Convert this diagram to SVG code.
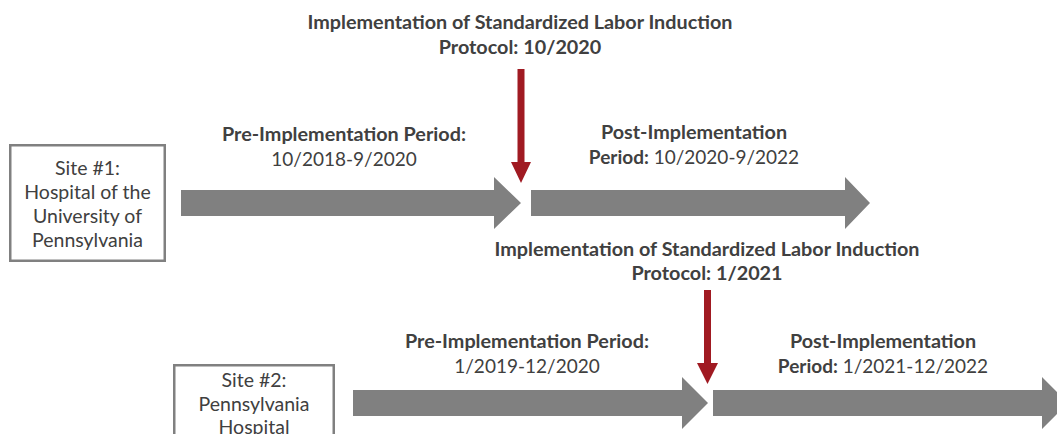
<svg xmlns="http://www.w3.org/2000/svg" width="1057" height="434" viewBox="0 0 1057 434">
  <style>
    text { font-family: Lato, "Open Sans", "Liberation Sans", sans-serif; fill: #404040; text-anchor: middle; }
    .b { font-weight: bold; font-size: 19.8px; }
    .r { font-size: 19px; }
    .site { font-size: 19.5px; }
    .box { fill: #ffffff; stroke: #808080; stroke-width: 2.5; }
    .period { fill: #808080; }
    .impl { fill: #a01a22; }
  </style>
  <rect width="1057" height="434" fill="#ffffff"/>

  <!-- site boxes -->
  <g id="site1">
    <rect class="box" x="10.25" y="145.25" width="154.5" height="115.5"/>
    <text class="site" x="87.5" y="175">Site #1:</text>
    <text class="site" x="87.5" y="199">Hospital of the</text>
    <text class="site" x="87.5" y="223">University of</text>
    <text class="site" x="87.5" y="247">Pennsylvania</text>
  </g>
  <g id="site2">
    <rect class="box" x="174.25" y="365.25" width="159.5" height="80"/>
    <text class="site" x="254" y="387">Site #2:</text>
    <text class="site" x="254" y="411">Pennsylvania</text>
    <text class="site" x="254" y="434">Hospital</text>
  </g>

  <!-- period labels -->
  <g id="site1-pre-label">
    <text class="b" x="344" y="141">Pre-Implementation Period:</text>
    <text class="r" x="344" y="166">10/2018-9/2020</text>
  </g>
  <g id="site1-post-label">
    <text class="b" x="694" y="139">Post-Implementation</text>
    <text class="r" x="694" y="164"><tspan font-weight="bold">Period:</tspan> 10/2020-9/2022</text>
  </g>
  <g id="site2-pre-label">
    <text class="b" x="527" y="348">Pre-Implementation Period:</text>
    <text class="r" x="527" y="373">1/2019-12/2020</text>
  </g>
  <g id="site2-post-label">
    <text class="b" x="883" y="348">Post-Implementation</text>
    <text class="r" x="883" y="373"><tspan font-weight="bold">Period:</tspan> 1/2021-12/2022</text>
  </g>

  <!-- protocol implementation labels -->
  <g id="site1-protocol">
    <text class="b" x="520" y="29">Implementation of Standardized Labor Induction</text>
    <text class="b" x="520" y="54">Protocol: 10/2020</text>
  </g>
  <g id="site2-protocol">
    <text class="b" x="707" y="256">Implementation of Standardized Labor Induction</text>
    <text class="b" x="707" y="280">Protocol: 1/2021</text>
  </g>

  <!-- timeline arrows and implementation markers -->
  <g id="connectors">
    <polygon class="period" points="181,190 494,190 494,177 521,203 494,229 494,216 181,216"/>
    <polygon class="period" points="531,190 845,190 845,177 870,203 845,229 845,216 531,216"/>
    <polygon class="period" points="353,390 682,390 682,377 708,403 682,429 682,416 353,416"/>
    <polygon class="period" points="713,390 1042,390 1042,377 1068,403 1042,429 1042,416 713,416"/>
    <polygon class="impl" points="517.5,69 524.5,69 524.5,162 531,162 521,183 511,162 517.5,162"/>
    <polygon class="impl" points="704,290 711,290 711,363 718,363 707.5,384 697,363 704,363"/>
  </g>
</svg>
